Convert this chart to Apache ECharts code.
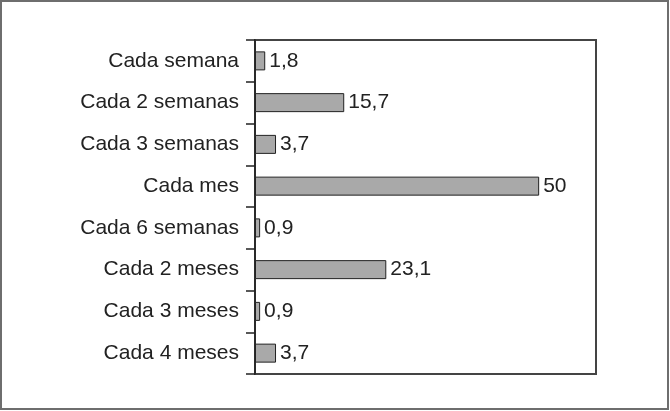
<!DOCTYPE html>
<html>
<head>
<meta charset="utf-8">
<script src="https://cdn.jsdelivr.net/npm/echarts@6/dist/echarts.min.js"></script>
<style>
html,body{margin:0;padding:0;background:#fff;}
#c{width:670px;height:411px;}
</style>
</head>
<body>
<div id="c"></div>
<script>
var categories = ['Cada semana','Cada 2 semanas','Cada 3 semanas','Cada mes','Cada 6 semanas','Cada 2 meses','Cada 3 meses','Cada 4 meses'];
var values = [1.8, 15.7, 3.7, 50, 0.9, 23.1, 0.9, 3.7];
var axisMax = 60;

var chart = echarts.init(document.getElementById('c'), null, {renderer:'canvas'});
var font = 'Liberation Sans, Arial, Helvetica, sans-serif';
chart.setOption({
  animation:false,
  graphic:[{type:'rect', shape:{x:1,y:1,width:667,height:408}, style:{fill:'none', stroke:'#6e6e6e', lineWidth:2}, silent:true}],
  grid:{left:255, top:40, width:341, height:334, show:true, borderColor:'#444', borderWidth:2, backgroundColor:'transparent'},
  xAxis:{type:'value', min:0, max:axisMax, show:false, splitLine:{show:false}},
  yAxis:{type:'category', data:categories, inverse:true,
    axisLine:{show:true, lineStyle:{color:'#222', width:1.5}},
    axisTick:{show:true, length:9, lineStyle:{color:'#222', width:1.5}},
    axisLabel:{color:'#222', fontSize:21, fontFamily:font, margin:16}
  },
  series:[{type:'bar', data:values, barWidth:19,
    itemStyle:{color:'#a9a9a9', borderColor:'#222', borderWidth:1},
    label:{show:true, position:'right', distance:4, color:'#222', fontSize:21, fontFamily:font,
      formatter:function(p){return String(p.value).replace('.', ',');}}
  }]
});
</script>
</body>
</html>
